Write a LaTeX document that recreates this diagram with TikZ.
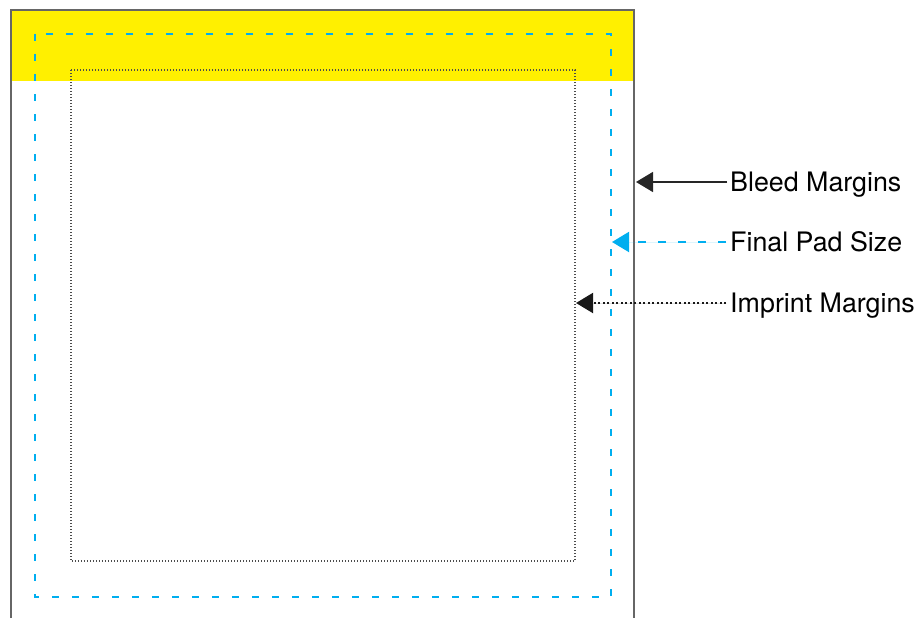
\documentclass[tikz,border=0pt]{standalone}
\usepackage{fontspec}
\setmainfont{TeX Gyre Heros}
\usetikzlibrary{arrows.meta,calc}

\definecolor{padcyan}{RGB}{0,174,239}
\definecolor{headyellow}{RGB}{255,240,0}

\tikzset{
	bleedline/.style={draw=black!60,line width=1.4pt},
	padline/.style={draw=padcyan,line width=2pt,dash pattern=on 7pt off 13pt},
	imprintline/.style={draw=black!70,line width=1.2pt,dash pattern=on 1.2pt off 1.8pt},
	tip/.style={-{Triangle[length=17pt,width=20pt]}},
	lbl/.style={anchor=base west,inner sep=0pt,font=\fontsize{26.8}{30}\selectfont}
}

\begin{document}
\begin{tikzpicture}[x=1pt,y=-1pt]
			          %bounding box 920x618, y downwards
			          \useasboundingbox (0,0) rectangle (920,618);
			          
			          %\draw[help lines,step=50] (0,0) grid (920,618);
			          
			          \fill[headyellow] (11,10) rectangle (634,81);
			          \draw[bleedline] (11,618) -- (11,10) -- (634,10) -- (634,618);
			          \draw[padline] (35,34) rectangle (611,597);
			          \draw[imprintline] (71,70) rectangle (575,561);
			          
			          \coordinate (bleedtip) at (636,182);
			          \coordinate (padtip) at (612,242);
			          \coordinate (imprinttip) at (576,303);
			          
			          \node[lbl] (bleedlbl) at (730,191.5) {Bleed Margins};
			          \node[lbl] (padlbl) at (730,251.5) {Final Pad Size};
			          \node[lbl] (imprintlbl) at (730,312.5) {Imprint Margins};
			          
			          \draw[tip,draw=black!85,fill=black!85,line width=1.3pt] ($(bleedlbl.west |- bleedtip)+(-3,0)$) -- (bleedtip);
			          \draw[tip,padline,fill=padcyan,dash pattern=on 8pt off 12pt] ($(padlbl.west |- padtip)+(-4,0)$) -- (padtip);
			          \draw[tip,draw=black!90,fill=black!90,line width=2pt,dash pattern=on 2pt off 2.5pt] ($(imprintlbl.west |- imprinttip)+(-4,0)$) -- (imprinttip);
				  \end{tikzpicture}
\end{document}
